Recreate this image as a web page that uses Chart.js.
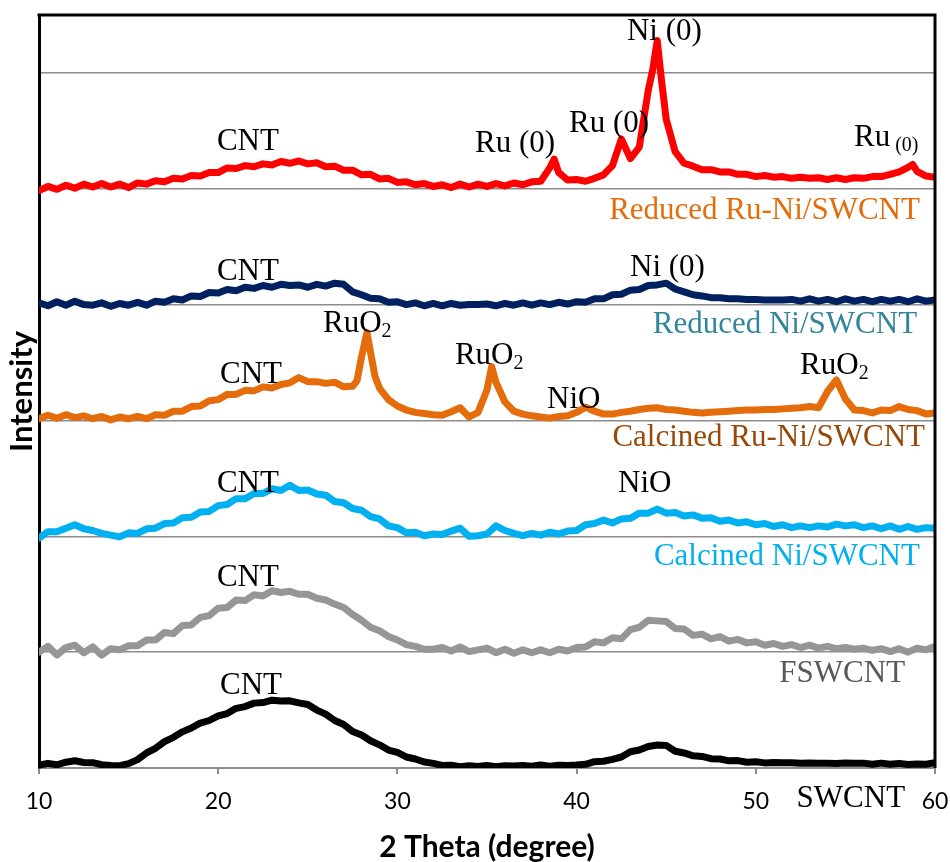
<!DOCTYPE html>
<html lang="en">
<head>
  <meta charset="UTF-8">
  <title>XRD patterns of SWCNT catalysts</title>
  <script src="https://cdn.jsdelivr.net/npm/chart.js@4"></script>
  <style>
    body { margin: 0; background: #fff; }
    #xrd { display: block; }
  </style>
</head>
<body>
  <canvas id="xrd" width="950" height="862"></canvas>
  <script>
    // 2 theta grid (degree)
    const theta = [
      10, 10.5, 11, 11.5, 12, 12.5, 13, 13.5, 14, 14.5,
      15, 15.5, 16, 16.5, 17, 17.5, 18, 18.5, 19, 19.5,
      20, 20.5, 21, 21.5, 22, 22.5, 23, 23.5, 24, 24.5,
      25, 25.5, 26, 26.5, 27, 27.5, 28, 28.5, 29, 29.5,
      30, 30.5, 31, 31.5, 32, 32.5, 33, 33.5, 34, 34.5,
      35, 35.5, 36, 36.5, 37, 37.5, 38, 38.5, 39, 39.5,
      40, 40.5, 41, 41.5, 42, 42.5, 43, 43.5, 44, 44.5,
      45, 45.5, 46, 46.5, 47, 47.5, 48, 48.5, 49, 49.5,
      50, 50.5, 51, 51.5, 52, 52.5, 53, 53.5, 54, 54.5,
      55, 55.5, 56, 56.5, 57, 57.5, 58, 58.5, 59, 59.5,
      60
    ];

    // intensities (stacked, offset by 1000 per pattern)
    const swcnt = [
      25, 40, 28, 50, 62, 48, 46, 28, 22, 20,
      38, 72, 130, 170, 228, 265, 312, 345, 388, 410,
      450, 470, 515, 530, 560, 565, 585, 578, 580, 562,
      548, 500, 465, 410, 375, 315, 285, 235, 200, 155,
      135, 95, 78, 52, 40, 22, 24, 12, 20, 14,
      22, 12, 20, 18, 22, 16, 26, 15, 24, 22,
      25, 32, 55, 58, 75, 95, 140, 155, 185, 198,
      195, 145, 130, 105, 100, 80, 78, 62, 64, 50,
      54, 44, 48, 46, 45, 40, 44, 42, 40, 38,
      44, 40, 42, 32, 42, 32, 40, 30, 34, 32,
      45
    ];
    const fswcnt = [
      1000, 1050, 975, 1040, 1060, 995, 1045, 975, 1030, 1020,
      1055, 1055, 1105, 1105, 1170, 1160, 1230, 1235, 1300, 1315,
      1380, 1385, 1450, 1445, 1495, 1485, 1530, 1515, 1525, 1500,
      1500, 1465, 1450, 1415, 1385, 1325, 1275, 1215, 1185, 1135,
      1105, 1065, 1050, 1025, 1025, 1040, 1010, 1045, 1005, 1020,
      1035, 995, 1025, 990, 1020, 995, 1020, 995, 1025, 1010,
      1040, 1045, 1090, 1080, 1125, 1115, 1195, 1215, 1275, 1270,
      1265, 1205, 1200, 1145, 1155, 1115, 1135, 1095, 1110, 1080,
      1090, 1060, 1075, 1050, 1065, 1040, 1060, 1035, 1050, 1030,
      1040, 1025, 1035, 1015, 1030, 1005, 1030, 1000, 1035, 1020,
      1050
    ];
    const calcNi = [
      1985, 2040, 2040, 2070, 2100, 2065, 2050, 2025, 2010, 1995,
      2030, 2025, 2065, 2070, 2110, 2115, 2160, 2165, 2210, 2215,
      2265, 2275, 2325, 2325, 2370, 2370, 2410, 2395, 2440, 2395,
      2400, 2365, 2355, 2300, 2290, 2240, 2225, 2170, 2150, 2090,
      2075, 2030, 2035, 2005, 2020, 2015, 2045, 2070, 2000, 2005,
      2020, 2090, 2050, 2025, 2005, 2025, 2010, 2035, 2020, 2045,
      2050, 2100, 2110, 2140, 2115, 2150, 2155, 2200, 2200, 2235,
      2200, 2205, 2175, 2185, 2155, 2160, 2130, 2140, 2115, 2125,
      2100, 2110, 2085, 2100, 2075, 2090, 2075, 2090, 2080, 2105,
      2090, 2100, 2075, 2090, 2065, 2090, 2060, 2085, 2060, 2075,
      2070
    ];
    const calcRuNi = [
      3015, 3045, 3020, 3050, 3025, 3040, 3015, 3035, 3005, 3030,
      3015, 3035, 3015, 3050, 3045, 3080, 3080, 3120, 3125, 3170,
      3180, 3225, 3225, 3260, 3255, 3290, 3280, 3310, 3325, 3370,
      3335, 3335, 3320, 3330, 3290, 3295, 3550, 3590, 3280, 3180,
      3125, 3090, 3070, 3060, 3050, 3045, 3075, 3110, 3030, 3070,
      3265, 3330, 3160, 3080, 3055, 3040, 3030, 3020, 3035, 3040,
      3070, 3115, 3080, 3055, 3055, 3070, 3080, 3095, 3105, 3110,
      3095, 3090, 3080, 3070, 3065, 3070, 3075, 3080, 3085, 3090,
      3090, 3095, 3095, 3100, 3105, 3110, 3120, 3110, 3250, 3350,
      3185, 3090, 3085, 3065, 3090, 3085, 3120, 3095, 3085, 3055,
      3065
    ];
    const calcRuNiPeaks = [[27.75, 3345], [28.3, 3760], [28.75, 3380], [35.26, 3465]];
    const redNi = [
      4015, 3990, 4025, 3995, 4030, 4000, 3995, 4015, 3985, 4010,
      3995, 4020, 3995, 4030, 4020, 4050, 4040, 4075, 4070, 4105,
      4100, 4130, 4120, 4150, 4140, 4165, 4150, 4175, 4165, 4170,
      4150, 4175, 4160, 4185, 4175, 4110, 4085, 4055, 4050, 4020,
      4025, 4000, 4015, 3990, 4010, 3990, 4010, 3995, 4000, 4000,
      4005, 3990, 4010, 3995, 4015, 3995, 4015, 4000, 4020, 4005,
      4025, 4020, 4050, 4050, 4085, 4090, 4125, 4130, 4165, 4170,
      4185, 4135, 4110, 4085, 4075, 4060, 4060, 4050, 4050, 4045,
      4045, 4040, 4040, 4040, 4045, 4030, 4050, 4030, 4045, 4025,
      4050, 4030, 4045, 4025, 4045, 4030, 4045, 4025, 4050, 4030,
      4040
    ];
    const redRuNi = [
      4985, 5020, 4995, 5030, 5005, 5040, 5015, 5045, 5015, 5040,
      5010, 5050, 5040, 5070, 5060, 5090, 5085, 5115, 5110, 5140,
      5140, 5180, 5175, 5200, 5190, 5215, 5205, 5235, 5220, 5240,
      5215, 5225, 5190, 5195, 5160, 5160, 5120, 5125, 5085, 5090,
      5055, 5060, 5035, 5045, 5020, 5035, 5010, 5040, 5015, 5040,
      5020, 5045, 5025, 5050, 5035, 5060, 5065, 5180, 5140, 5075,
      5080, 5065, 5090, 5120, 5200, 5430, 5260, 5360, 5850, 6280,
      5600, 5320, 5220, 5195, 5165, 5165, 5145, 5145, 5125, 5125,
      5105, 5115, 5100, 5105, 5090, 5100, 5090, 5095, 5080, 5095,
      5080, 5095, 5090, 5105, 5105, 5125, 5145, 5185, 5150, 5110,
      5100
    ];
    const redRuNiPeaks = [[38.75, 5255], [44.25, 6030], [44.75, 5920], [58.75, 5210]];

    // hidden y levels used for the horizontal grid lines
    const gridLevels = [0, 1000, 2000, 3000, 4000, 5000, 6000];

    // peak annotations: text, subscript, anchor [2theta, intensity] (left / middle)
    const peakText = ['CNT', 'Ru (0)', 'Ru (0)', 'Ni (0)', 'Ru', 'CNT', 'Ni (0)', 'CNT', 'RuO', 'RuO', 'NiO', 'RuO', 'CNT', 'NiO', 'CNT', 'CNT'];
    const peakSub  = ['', '', '', '', ' (0)', '', '', '', '2', '2', '', '2', '', '', '', ''];
    const peakAt = [
      [19.93, 5404], [34.33, 5386], [39.58, 5559], [42.81, 6357], [55.48, 5443],
      [19.93, 4282], [42.98, 4317],
      [20.10, 3394], [25.85, 3833], [33.21, 3557], [38.35, 3178], [52.47, 3471],
      [19.93, 2453], [42.31, 2453],
      [19.93, 1642],
      [20.10, 711]
    ];

    // sample names: text, colour, anchor [2theta, intensity] (right / middle)
    const nameText = ['Reduced Ru-Ni/SWCNT', 'Reduced Ni/SWCNT', 'Calcined Ru-Ni/SWCNT', 'Calcined Ni/SWCNT', 'FSWCNT', 'SWCNT'];
    const nameColor = ['#e46c0a', '#31859c', '#984807', '#00b0f0', '#595959', '#000000'];
    const nameAt = [[59.16, 4808], [59.0, 3822], [59.44, 2854], [59.16, 1819], [58.33, 809], [58.33, -265]];

    function toPoints(vals, extra) {
      const p = theta.map((t, i) => ({ x: t, y: vals[i] }));
      (extra || []).forEach(([t, v]) => p.push({ x: t, y: v }));
      return p.sort((a, b) => a.x - b.x);
    }

    function trace(label, vals, color, extra) {
      return {
        label, data: toPoints(vals, extra), borderColor: color, borderWidth: 7,
        pointRadius: 0, tension: 0, fill: false,
        borderJoinStyle: 'round', borderCapStyle: 'round'
      };
    }

    // frame (top/right) and the text annotations
    const framePlugin = {
      id: 'frameAndText',
      afterDraw(chart) {
        const { ctx, chartArea: a, scales: { x, y } } = chart;
        ctx.save();
        ctx.strokeStyle = '#000';
        ctx.lineWidth = 3;
        ctx.beginPath();
        ctx.moveTo(a.left - 1.5, a.top);
        ctx.lineTo(a.right, a.top);
        ctx.lineTo(a.right, a.bottom);
        ctx.stroke();

        ctx.textBaseline = 'middle';
        ctx.fillStyle = '#000';
        ctx.textAlign = 'left';
        peakText.forEach((t, i) => {
          const px = x.getPixelForValue(peakAt[i][0]);
          const py = y.getPixelForValue(peakAt[i][1]);
          ctx.font = '31px "Liberation Serif", "Times New Roman", serif';
          ctx.fillText(t, px, py);
          if (peakSub[i]) {
            const w = ctx.measureText(t).width;
            ctx.font = '20px "Liberation Serif", "Times New Roman", serif';
            ctx.fillText(peakSub[i], px + w, py + 8);
          }
        });

        ctx.textAlign = 'right';
        ctx.font = '31px "Liberation Serif", "Times New Roman", serif';
        nameText.forEach((t, i) => {
          ctx.fillStyle = nameColor[i];
          ctx.fillText(t, x.getPixelForValue(nameAt[i][0]), y.getPixelForValue(nameAt[i][1]));
        });
        ctx.restore();
      }
    };

    new Chart(document.getElementById('xrd'), {
      type: 'line',
      data: {
        datasets: [
          trace('SWCNT', swcnt, '#000000'),
          trace('FSWCNT', fswcnt, '#969696'),
          trace('Calcined Ni/SWCNT', calcNi, '#00b0f0'),
          trace('Calcined Ru-Ni/SWCNT', calcRuNi, '#e46c0a', calcRuNiPeaks),
          trace('Reduced Ni/SWCNT', redNi, '#002060'),
          trace('Reduced Ru-Ni/SWCNT', redRuNi, '#ff0000', redRuNiPeaks)
        ]
      },
      options: {
        responsive: false,
        animation: false,
        layout: { padding: { top: 15, right: 15, bottom: 0, left: 0 } },
        plugins: { legend: { display: false }, tooltip: { enabled: false } },
        scales: {
          x: {
            type: 'linear', min: 10, max: 60,
            afterFit: s => { s.height = 94; s.paddingLeft = 0; s.paddingRight = 0; },
            ticks: { stepSize: 10, color: '#000', padding: 14, maxRotation: 0, autoSkip: false,
                     font: { family: 'Lato', size: 23 } },
            grid: { display: true, drawOnChartArea: false, drawTicks: true, tickLength: 6,
                    color: '#8c8c8c', lineWidth: 2 },
            border: { color: '#8c8c8c', width: 2 },
            title: { display: true, text: '2 Theta (degree)', color: '#000',
                     font: { family: 'Lato', size: 30, weight: 'bold', lineHeight: 1 },
                     padding: { top: 0, bottom: 0 } }
          },
          y: {
            min: 0, max: 6500,
            afterFit: s => { s.width = 39; },
            afterBuildTicks: s => { s.ticks = gridLevels.map(v => ({ value: v })); },
            ticks: { display: false },
            grid: { color: '#8c8c8c', lineWidth: 1.5, drawTicks: false },
            border: { color: '#000', width: 3 },
            title: { display: true, text: 'Intensity', color: '#000',
                     font: { family: 'Lato', size: 31, weight: 'bold', lineHeight: 1 },
                     padding: { top: 6, bottom: 0 } }
          }
        }
      },
      plugins: [framePlugin]
    });
  </script>
</body>
</html>
